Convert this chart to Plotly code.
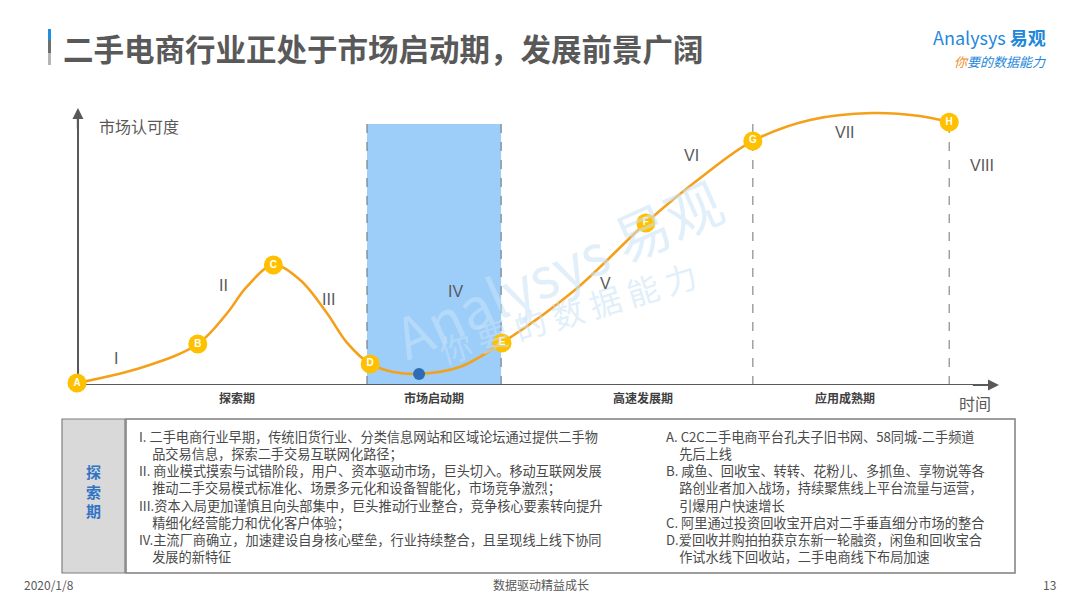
import plotly.graph_objects as go

# ---------------- data ----------------
# market acceptance curve: time (0-100) vs acceptance (0-100)
curve_time = [0, 7.2, 13.1, 16.3, 18.4, 21.3, 24.2, 27.1, 29.3, 31.8, 34.3, 37.1,
              41.5, 46.1, 54.0, 61.7, 67.6, 73.3, 79.5, 86.3, 91.4, 94.6]
curve_value = [0.7, 6.5, 14.8, 26.0, 35.4, 43.3, 37.9, 26.0, 15.2, 7.6, 4.7, 4.0,
               6.5, 15.2, 34.3, 58.5, 74.7, 88.1, 95.7, 98.2, 97.1, 94.9]

node_labels = ["A", "B", "C", "D", "E", "F", "G", "H"]
node_time = [0, 13.1, 21.3, 31.8, 46.1, 61.7, 73.3, 94.6]
node_value = [0.7, 14.8, 43.3, 7.6, 15.2, 58.5, 88.1, 94.9]

current_time = [37.1]
current_value = [4.0]

stage_labels = ["I", "II", "III", "IV", "V", "VI", "VII", "VIII"]
stage_time = [4.2, 15.9, 27.3, 41.1, 57.3, 66.6, 83.3, 98.2]
stage_value = [9.7, 36.1, 31.0, 33.9, 36.5, 83.0, 91.0, 79.4]

phase_names = ["探索期", "市场启动期", "高速发展期", "应用成熟期"]
phase_label_time = [17.3, 38.7, 61.4, 83.3]
highlight_phase = (31.45, 46.0)      # 市场启动期
highlight_top = 94.2
divider_time = [73.3, 94.6]
divider_top = [94.5, 94.9]

title = "二手电商行业正处于市场启动期，发展前景广阔"
y_title = "市场认可度"
x_title = "时间"

# (text, is_continuation_line)
left_lines = [
    ("I. 二手电商行业早期，传统旧货行业、分类信息网站和区域论坛通过提供二手物", 0),
    ("品交易信息，探索二手交易互联网化路径；", 1),
    ("II. 商业模式摸索与试错阶段，用户、资本驱动市场，巨头切入。移动互联网发展", 0),
    ("推动二手交易模式标准化、场景多元化和设备智能化，市场竞争激烈；", 1),
    ("III.资本入局更加谨慎且向头部集中，巨头推动行业整合，竞争核心要素转向提升", 0),
    ("精细化经营能力和优化客户体验；", 1),
    ("IV.主流厂商确立，加速建设自身核心壁垒，行业持续整合，且呈现线上线下协同", 0),
    ("发展的新特征", 1),
]
right_lines = [
    ("A. C2C二手电商平台孔夫子旧书网、58同城-二手频道", 0),
    ("先后上线", 1),
    ("B. 咸鱼、回收宝、转转、花粉儿、多抓鱼、享物说等各", 0),
    ("路创业者加入战场，持续聚焦线上平台流量与运营，", 1),
    ("引爆用户快速增长", 1),
    ("C. 阿里通过投资回收宝开启对二手垂直细分市场的整合", 0),
    ("D.爱回收并购拍拍获京东新一轮融资，闲鱼和回收宝合", 0),
    ("作试水线下回收站，二手电商线下布局加速", 1),
]
box_title = "探索期"
footer_date = "2020/1/8"
footer_slogan = "数据驱动精益成长"
page_no = "13"

# ---------------- layout helpers ----------------
OFF = 8                      # page margin of the browser body
W, H = 1080 - OFF, 608 - OFF
FONT = "Noto Sans CJK SC"
GREY = "#595959"
TXT = "#4a4a4a"


def px(x):
    return (x - OFF) / W


def py(y):
    return 1 - (y - OFF) / H


def note(x, y, text, size, color=GREY, xanchor="center", yanchor="middle", family=FONT, **kw):
    d = dict(x=px(x), y=py(y), xref="paper", yref="paper", text=text, showarrow=False,
             xanchor=xanchor, yanchor=yanchor, font=dict(size=size, color=color, family=family))
    d.update(kw)
    return d


fig = go.Figure()

# curve
fig.add_trace(go.Scatter(
    x=curve_time, y=curve_value, mode="lines",
    line=dict(color="#F5A01A", width=2.6, shape="spline", smoothing=1.0),
    hoverinfo="skip", cliponaxis=False))

# current position dot
fig.add_trace(go.Scatter(
    x=current_time, y=current_value, mode="markers",
    marker=dict(color="#2E6DB4", size=12), hoverinfo="skip", cliponaxis=False))

# lettered nodes
fig.add_trace(go.Scatter(
    x=node_time, y=node_value, mode="markers+text", text=["<b>%s</b>" % s for s in node_labels],
    textposition="middle center",
    textfont=dict(color="white", size=10, family="Liberation Sans"),
    marker=dict(color="#FFC000", size=19, line=dict(width=0)),
    hoverinfo="skip", cliponaxis=False))

shapes = []
annotations = []

# highlighted phase rectangle
shapes.append(dict(type="rect", xref="x", yref="y", x0=highlight_phase[0], x1=highlight_phase[1],
                   y0=0, y1=highlight_top, fillcolor="#9DCEFA", line=dict(width=0), layer="below"))
for xv in highlight_phase:
    shapes.append(dict(type="line", xref="x", yref="y", x0=xv, x1=xv, y0=0, y1=highlight_top,
                       line=dict(color="#6b6b6b", width=1, dash="dash"), layer="below"))
for xv, top in zip(divider_time, divider_top):
    shapes.append(dict(type="line", xref="x", yref="y", x0=xv, x1=xv, y0=0, y1=top,
                       line=dict(color="#8a8a8a", width=1.2, dash="dash"), layer="below"))

# axes lines (below the curve) with arrowheads at the tips
shapes.append(dict(type="line", xref="x", yref="y", x0=0, x1=99, y0=0, y1=0,
                   line=dict(color=GREY, width=2.2), layer="below"))
shapes.append(dict(type="line", xref="x", yref="y", x0=0.1, x1=0.1, y0=0, y1=99,
                   line=dict(color=GREY, width=2.2), layer="below"))
annotations.append(dict(x=100, y=0, ax=97, ay=0, xref="x", yref="y", axref="x", ayref="y",
                        text="", showarrow=True, arrowhead=2, arrowsize=1, arrowwidth=2.2,
                        arrowcolor=GREY))
annotations.append(dict(x=0.1, y=100, ax=0.1, ay=92, xref="x", yref="y", axref="x", ayref="y",
                        text="", showarrow=True, arrowhead=2, arrowsize=1, arrowwidth=2.2,
                        arrowcolor=GREY))

# watermark
annotations.append(note(557, 267, "Analysys 易观", 56, color="rgba(200,226,246,0.55)", textangle=-24))
annotations.append(note(567, 312, "你 要 的 数 据 能 力", 32, color="rgba(200,226,246,0.55)", textangle=-17))

# stage numerals
for lab, tx, ty in zip(stage_labels, stage_time, stage_value):
    annotations.append(dict(x=tx, y=ty, xref="x", yref="y", text=lab, showarrow=False,
                            xanchor="center", yanchor="middle",
                            font=dict(size=16, color=GREY, family="Liberation Sans")))

# phase names under axis
for name, tx in zip(phase_names, phase_label_time):
    annotations.append(dict(x=tx, y=py(397), xref="x", yref="paper", text="<b>" + name + "</b>",
                            showarrow=False, xanchor="center", yanchor="middle",
                            font=dict(size=12, color="#404040", family=FONT)))

# axis titles
annotations.append(note(139, 126, y_title, 16))
annotations.append(note(975, 403, x_title, 16))

# title bar
for y0, y1, col in [(29, 40, "#1E8FE1"), (40, 53, "#6f6f6f"), (53, 65, "#b5b5b5")]:
    shapes.append(dict(type="rect", xref="paper", yref="paper", x0=px(48), x1=px(51),
                       y0=py(y1), y1=py(y0), fillcolor=col, line=dict(width=0)))
annotations.append(note(61, 48, "<b>" + title + "</b>", 30.5, xanchor="left"))

# logo
annotations.append(note(1048, 37, "Analysys <b>易观</b>", 18, color="#1F88DA", xanchor="right"))
annotations.append(note(1048, 61, "<i><span style='color:#F08A1C'>你</span>要的数据能力</i>", 13,
                        color="#1F88DA", xanchor="right"))

# description box
shapes.append(dict(type="rect", xref="paper", yref="paper", x0=px(62), x1=px(125), y0=py(573), y1=py(419),
                   fillcolor="#D9D9D9", line=dict(color="#7f7f7f", width=1.2)))
shapes.append(dict(type="rect", xref="paper", yref="paper", x0=px(126), x1=px(1015), y0=py(573), y1=py(419),
                   fillcolor="rgba(255,255,255,0)", line=dict(color="#7f7f7f", width=1.5)))
annotations.append(note(93, 491, "<b>" + "<br>".join(box_title) + "</b>", 15, color="#2F74C6"))


def block(lines):
    return "<br>".join(("\u3000" if cont else "") + txt for txt, cont in lines)


annotations.append(note(137, 497, block(left_lines), 13.2, color=TXT, xanchor="left", align="left"))
annotations.append(note(664, 497, block(right_lines), 13.2, color=TXT, xanchor="left", align="left"))

# footer
annotations.append(note(22, 584, footer_date, 12, xanchor="left"))
annotations.append(note(541, 584, footer_slogan, 12))
annotations.append(note(1058, 584, page_no, 12, xanchor="right"))

fig.update_layout(
    width=W, height=H, margin=dict(l=0, r=0, t=0, b=0),
    paper_bgcolor="white", plot_bgcolor="rgba(0,0,0,0)", showlegend=False,
    xaxis=dict(domain=[px(77), px(999)], range=[0, 100], visible=False, fixedrange=True),
    yaxis=dict(domain=[py(385), py(108)], range=[0, 100], visible=False, fixedrange=True),
    shapes=shapes, annotations=annotations,
)

fig.write_html("out.html")
